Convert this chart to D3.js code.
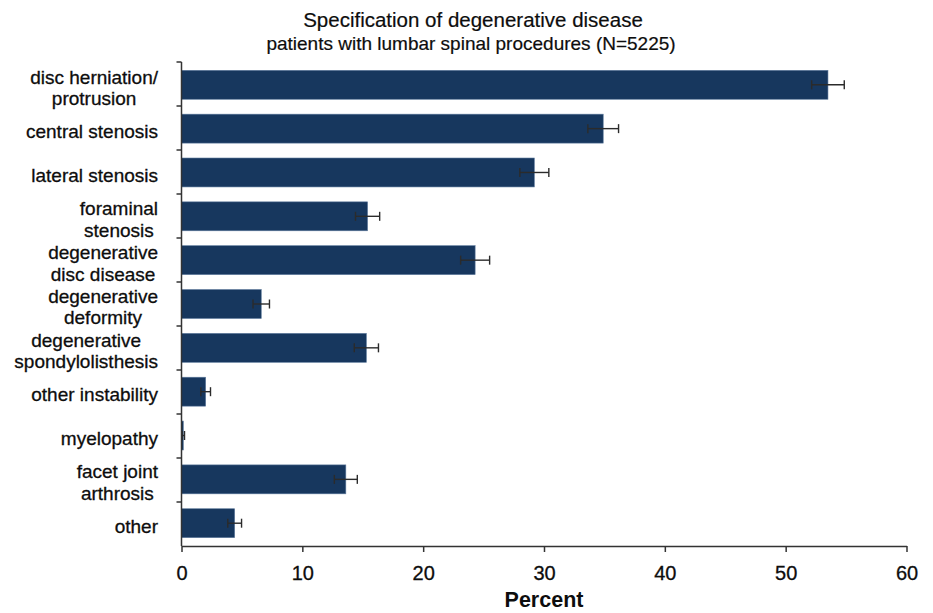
<!DOCTYPE html>
<html>
<head>
<meta charset="utf-8">
<script src="https://cdn.jsdelivr.net/npm/d3@7"></script>
<style>
  html, body { margin: 0; padding: 0; background: #fff; }
  svg { display: block; font-family: "Liberation Sans", Arial, sans-serif; }
</style>
</head>
<body>
<svg id="chart" width="933" height="613"></svg>
<script>
// Categories (each entry lists the lines of its axis label)
const categories = [
  ["disc herniation/", "protrusion"],
  ["central stenosis"],
  ["lateral stenosis"],
  ["foraminal", "stenosis"],
  ["degenerative", "disc disease"],
  ["degenerative", "deformity"],
  ["degenerative", "spondylolisthesis"],
  ["other instability"],
  ["myelopathy"],
  ["facet joint", "arthrosis"],
  ["other"]
];
// Share of patients (%) and half-width of the error bar (%)
const percent = [53.5, 34.9, 29.2, 15.4, 24.3, 6.6, 15.3, 2.0, 0.15, 13.6, 4.4];
const errorHalf = [1.35, 1.27, 1.2, 1.0, 1.2, 0.68, 1.0, 0.4, 0.1, 0.95, 0.57];
const xTicks = [0, 10, 20, 30, 40, 50, 60];

const title = "Specification of degenerative disease";
const subtitle = "patients with lumbar spinal procedures (N=5225)";
const xTitle = "Percent";

const svg = d3.select("#chart");
const plotLeft = 181.5, plotRight = 906.5, plotTop = 62, plotBottom = 546;

const x = d3.scaleLinear().domain([0, 60]).range([plotLeft, plotRight]);
const y = d3.scaleBand()
  .domain(d3.range(categories.length))
  .range([plotTop, plotBottom])
  .paddingInner(0.34)
  .paddingOuter(0.19);

const barColor = "#17375e";
const axisColor = "#333";
const textColor = "#0d0d0d";

// Bars
svg.append("g").selectAll("rect")
  .data(percent)
  .join("rect")
  .attr("x", x(0))
  .attr("y", (d, i) => y(i))
  .attr("width", d => x(d) - x(0))
  .attr("height", y.bandwidth())
  .attr("fill", barColor)
  .attr("stroke", "#5d7a9c")
  .attr("stroke-width", 0.6);

// Error bars
const eb = svg.append("g").attr("stroke", "#2b2b2b").attr("stroke-width", 1.4);
percent.forEach((v, i) => {
  const cy = y(i) + y.bandwidth() / 2;
  const lo = x(Math.max(0, v - errorHalf[i])), hi = x(v + errorHalf[i]);
  eb.append("line").attr("x1", lo).attr("x2", hi).attr("y1", cy).attr("y2", cy);
  eb.append("line").attr("x1", lo).attr("x2", lo).attr("y1", cy - 4.5).attr("y2", cy + 4.5);
  eb.append("line").attr("x1", hi).attr("x2", hi).attr("y1", cy - 4.5).attr("y2", cy + 4.5);
});

// X axis
const xAxis = svg.append("g")
  .attr("transform", `translate(0,${plotBottom})`)
  .call(d3.axisBottom(x).tickValues(xTicks).tickSizeInner(6).tickSizeOuter(0).tickPadding(14));
xAxis.select(".domain").attr("stroke", axisColor).attr("stroke-width", 1.5);
xAxis.selectAll(".tick line").attr("stroke", axisColor).attr("stroke-width", 1.5);
xAxis.selectAll(".tick text")
  .attr("fill", textColor)
  .attr("stroke", textColor)
  .attr("stroke-width", 0.3)
  .style("font-size", "20px")
  .style("font-family", "Liberation Sans, Arial, sans-serif");

// Y axis line with category separators
const yAxis = svg.append("g");
yAxis.append("line")
  .attr("x1", plotLeft).attr("x2", plotLeft).attr("y1", plotTop).attr("y2", plotBottom)
  .attr("stroke", axisColor).attr("stroke-width", 1.5);
const sepPositions = d3.range(categories.length).map(i => plotTop + i * (plotBottom - plotTop) / categories.length);
yAxis.selectAll(".sep")
  .data(sepPositions)
  .join("line")
  .attr("x1", plotLeft - 5).attr("x2", plotLeft)
  .attr("y1", d => d).attr("y2", d => d)
  .attr("stroke", axisColor).attr("stroke-width", 1.5);

// Category labels: block right-aligned, lines centred within the block
const labelRight = 158, lineH = 21.5, fs = 19;
categories.forEach((lines, i) => {
  const g = svg.append("g");
  const texts = lines.map(l => g.append("text")
    .text(l)
    .style("font-size", fs + "px")
    .attr("fill", textColor)
    .attr("stroke", textColor)
    .attr("stroke-width", 0.3));
  const w = d3.max(texts, t => t.node().getComputedTextLength());
  const cy = y(i) + y.bandwidth() / 2 + 3;
  const y0 = cy - (lines.length - 1) * lineH / 2;
  texts.forEach((t, k) => {
    t.attr("text-anchor", "middle")
     .attr("x", labelRight - w / 2)
     .attr("y", y0 + k * lineH)
     .attr("dy", "0.35em");
  });
});

// Titles
svg.append("text")
  .attr("x", 473).attr("y", 27)
  .attr("text-anchor", "middle")
  .style("font-size", "20.5px")
  .attr("fill", textColor)
  .attr("stroke", textColor)
  .attr("stroke-width", 0.2)
  .text(title);
svg.append("text")
  .attr("x", 471).attr("y", 50)
  .attr("text-anchor", "middle")
  .style("font-size", "19px")
  .attr("fill", textColor)
  .attr("stroke", textColor)
  .attr("stroke-width", 0.2)
  .text(subtitle);

svg.append("text")
  .attr("x", (plotLeft + plotRight) / 2).attr("y", 607)
  .attr("text-anchor", "middle")
  .style("font-size", "21.5px")
  .style("font-weight", "bold")
  .attr("fill", textColor)
  .text(xTitle);
</script>
</body>
</html>
